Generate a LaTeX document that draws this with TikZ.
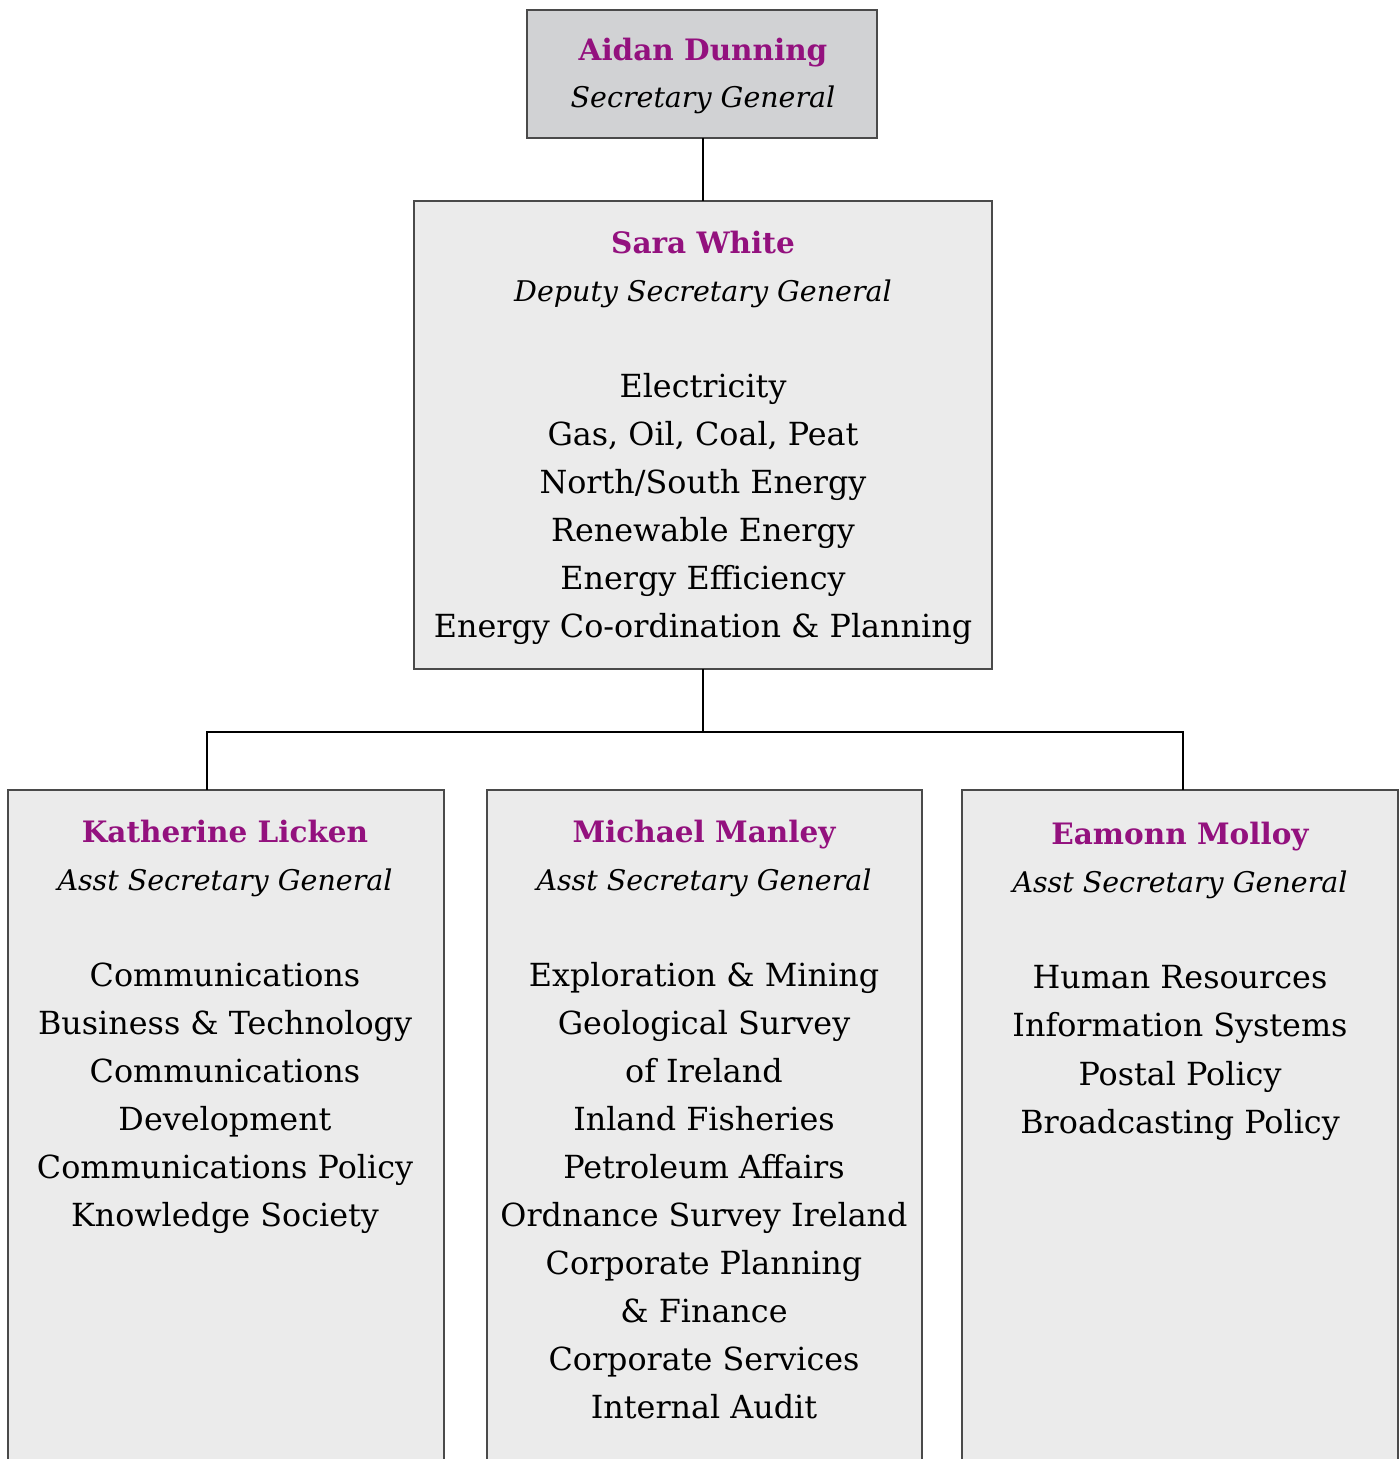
\documentclass[tikz,border=0pt]{standalone}
\usepackage{fontspec}
\setmainfont{DejaVu Serif}
\definecolor{mag}{HTML}{93117E}
\definecolor{boxfill}{HTML}{EBEBEB}
\definecolor{topfill}{HTML}{D1D2D4}
\definecolor{boxline}{HTML}{4A4A4A}
\begin{document}
\begin{tikzpicture}[x=1pt,y=-1pt,
  box/.style={draw=boxline,line width=1.8pt,fill=boxfill},
  topbox/.style={draw=boxline,line width=1.8pt,fill=topfill},
  conn/.style={draw=black,line width=2.4pt},
  txt/.style={anchor=base,inner sep=0pt,font=\fontsize{31.8}{36}\selectfont},
  nm/.style={txt,text=mag,font=\fontsize{29.5}{34}\selectfont\bfseries},
  ttl/.style={txt,font=\fontsize{28.5}{34}\selectfont\itshape}]
\useasboundingbox (0,0) rectangle (1400,1459);
% boxes
\path[topbox] (527,10) rectangle (877,138);
\node[inner sep=0pt,minimum width=350pt,minimum height=128pt] (sg) at (702,74) {};
\path[box] (414,201) rectangle (992,669);
\node[inner sep=0pt,minimum width=578pt,minimum height=468pt] (dsg) at (703,435) {};
\path[box] (8,790) rectangle (444,1475);
\node[inner sep=0pt,minimum width=436pt,minimum height=685pt] (kl) at (226,1132.5) {};
\path[box] (487,790) rectangle (922,1475);
\node[inner sep=0pt,minimum width=435pt,minimum height=685pt] (mm) at (704.5,1132.5) {};
\path[box] (962,790) rectangle (1398,1475);
\node[inner sep=0pt,minimum width=436pt,minimum height=685pt] (em) at (1180,1132.5) {};
% connectors
\coordinate (j) at (703,732);
\draw[conn] (sg.south -| 703,0) -- (dsg.north -| 703,0);
\draw[conn] (dsg.south -| 703,0) -- (j);
\draw[conn] (j) -- (207,732) -- (kl.north -| 207,0);
\draw[conn] (j) -- (1183,732) -- (em.north -| 1183,0);
% top
\node[nm] (t1) at (703,60) {Aidan Dunning};
\node[ttl] (t2) at (703,107) {Secretary General};
% deputy
\node[nm] (d1) at (703,253) {Sara White};
\node[ttl] (d2) at (703,301) {Deputy Secretary General};
\node[txt] (d3) at (703,397) {Electricity};
\node[txt] (d4) at (703,445) {Gas, Oil, Coal, Peat};
\node[txt] (d5) at (703,493) {North/South Energy};
\node[txt] (d6) at (703,541) {Renewable Energy};
\node[txt] (d7) at (703,589) {Energy Efficiency};
\node[txt] (d8) at (703,637) {Energy Co-ordination \& Planning};
% left
\node[nm] (k1) at (225,842) {Katherine Licken};
\node[ttl] (k2) at (225,890) {Asst Secretary General};
\node[txt] (k3) at (225,986) {Communications};
\node[txt] (k4) at (225,1034) {Business \& Technology};
\node[txt] (k5) at (225,1082) {Communications};
\node[txt] (k6) at (225,1130) {Development};
\node[txt] (k7) at (225,1178) {Communications Policy};
\node[txt] (k8) at (225,1226) {Knowledge Society};
% middle
\node[nm] (m1) at (704,842) {Michael Manley};
\node[ttl] (m2) at (704,890) {Asst Secretary General};
\node[txt] (m3) at (704,986) {Exploration \& Mining};
\node[txt] (m4) at (704,1034) {Geological Survey};
\node[txt] (m5) at (704,1082) {of Ireland};
\node[txt] (m6) at (704,1130) {Inland Fisheries};
\node[txt] (m7) at (704,1178) {Petroleum Affairs};
\node[txt] (m8) at (704,1226) {Ordnance Survey Ireland};
\node[txt] (m9) at (704,1274) {Corporate Planning};
\node[txt] (m10) at (704,1322) {\& Finance};
\node[txt] (m11) at (704,1370) {Corporate Services};
\node[txt] (m12) at (704,1418) {Internal Audit};
% right
\node[nm] (e1) at (1180,844) {Eamonn Molloy};
\node[ttl] (e2) at (1180,892) {Asst Secretary General};
\node[txt] (e3) at (1180,988) {Human Resources};
\node[txt] (e4) at (1180,1036) {Information Systems};
\node[txt] (e5) at (1180,1085) {Postal Policy};
\node[txt] (e6) at (1180,1133) {Broadcasting Policy};
\end{tikzpicture}
\end{document}
